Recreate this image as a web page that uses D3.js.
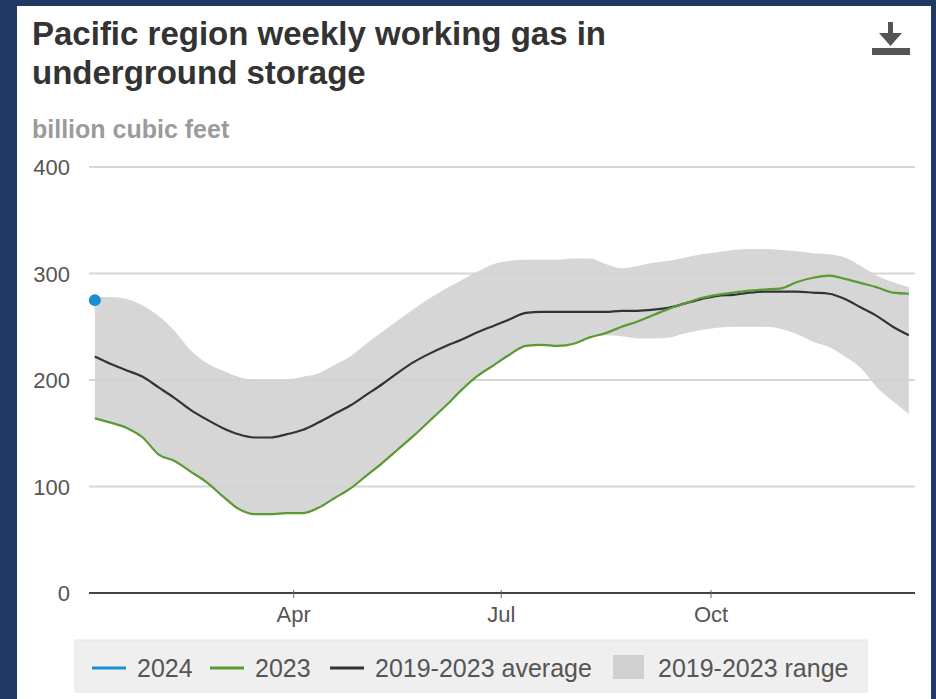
<!DOCTYPE html>
<html>
<head>
<meta charset="utf-8">
<script src="https://cdn.jsdelivr.net/npm/d3@7"></script>
<style>
  html, body { margin: 0; padding: 0; background: #1f3864; }
  svg { display: block; }
  text { font-family: "Liberation Sans", Arial, sans-serif; }
</style>
</head>
<body>
<svg id="chart" width="936" height="699"></svg>
<script>
// ---- data ----
const weeks = ["01-04","01-11","01-18","01-25","02-01","02-08","02-15","02-22",
  "03-01","03-08","03-15","03-22","03-29","04-05","04-12","04-19","04-26",
  "05-03","05-10","05-17","05-24","05-31","06-07","06-14","06-21","06-28",
  "07-05","07-12","07-19","07-26","08-02","08-09","08-16","08-23","08-30",
  "09-06","09-13","09-20","09-27","10-04","10-11","10-18","10-25",
  "11-01","11-08","11-15","11-22","11-29","12-06","12-13","12-20","12-27"];

const series2024 = [275];

const series2023 = [164,160,155,146,130,124,114,104,91,79,74,74,75,75,80,89,98,
  110,122,135,148,162,176,191,204,214,224,232,233,232,234,240,244,250,255,261,
  267,272,277,280,282,284,285,286,292,296,298,295,291,287,282,281];

const average = [222,215,209,203,193,183,172,163,155,149,146,146,149,153,160,168,
  176,186,196,207,217,225,232,238,245,251,257,263,264,264,264,264,264,265,265,
  266,268,272,276,279,280,282,283,283,283,282,281,276,268,260,250,242];

const rangeHigh = [278,278,276,270,260,246,228,216,209,203,200,200,200,203,206,214,
  222,234,245,256,267,277,286,294,302,309,312,313,313,313,314,314,309,305,307,
  310,312,315,318,320,322,323,323,322,321,319,318,315,307,298,292,287];

const rangeLow = [164,160,155,146,130,124,114,104,91,79,74,74,75,75,80,89,98,
  110,122,135,148,162,176,191,204,214,224,232,233,232,234,240,242,241,239,239,
  240,244,247,249,250,250,250,248,243,236,231,222,211,193,180,168];

const yTicks = [0, 100, 200, 300, 400];
const xTickDates = ["04-01", "07-01", "10-01"];
const xTickLabels = ["Apr", "Jul", "Oct"];

const titleLines = ["Pacific region weekly working gas in", "underground storage"];
const unitLabel = "billion cubic feet";
const legendItems = [
  {label: "2024", type: "line", color: "#1b8fd6"},
  {label: "2023", type: "line", color: "#5b9a32"},
  {label: "2019-2023 average", type: "line", color: "#333333"},
  {label: "2019-2023 range", type: "box", color: "#d0d0d0"}
];

// ---- drawing ----
const parse = d3.timeParse("%Y-%m-%d");
const toDate = s => parse("2023-" + s);

const svg = d3.select("#chart");

// white panel
svg.append("rect").attr("x", 17).attr("y", 6).attr("width", 914).attr("height", 700)
  .attr("fill", "#ffffff");

const x = d3.scaleTime()
  .domain([toDate("01-01"), toDate("12-31")])
  .range([88, 918]);
const y = d3.scaleLinear().domain([0, 400]).range([593, 167]);

const plotLeft = 89, plotRight = 915;

// title
svg.selectAll("text.title").data(titleLines).enter().append("text")
  .attr("class", "title")
  .attr("x", 32).attr("y", (d, i) => 45 + i * 39)
  .attr("font-size", 33).attr("font-weight", "bold").attr("fill", "#333333")
  .text(d => d);

// units
svg.append("text").attr("x", 32).attr("y", 138)
  .attr("font-size", 25).attr("font-weight", "bold").attr("fill", "#9b9b9b")
  .text(unitLabel);

// download icon
svg.append("path")
  .attr("d", "M888,22 H893 V33 H902 L890.5,46 L879,33 H888 Z M872,48 H910 V55 H872 Z")
  .attr("fill", "#555555");

// gridlines
const gridG = svg.append("g");
gridG.selectAll("line").data(yTicks.filter(d => d > 0)).enter().append("line")
  .attr("x1", plotLeft).attr("x2", plotRight)
  .attr("y1", d => y(d)).attr("y2", d => y(d))
  .attr("stroke", "#d6d6d6").attr("stroke-width", 2);

// y tick labels
svg.append("g").selectAll("text").data(yTicks).enter().append("text")
  .attr("x", 70).attr("y", d => y(d) + 8)
  .attr("text-anchor", "end").attr("font-size", 22).attr("fill", "#555555")
  .text(d => d);

const rows = weeks.map((w, i) => ({
  date: toDate(w), lo: rangeLow[i], hi: rangeHigh[i], avg: average[i], v23: series2023[i]
}));

// range area
svg.append("path").datum(rows)
  .attr("d", d3.area().x(d => x(d.date)).y0(d => y(d.lo)).y1(d => y(d.hi)).curve(d3.curveMonotoneX))
  .attr("fill", "#d3d3d3").attr("fill-opacity", 0.92);

// average line
svg.append("path").datum(rows)
  .attr("d", d3.line().x(d => x(d.date)).y(d => y(d.avg)).curve(d3.curveMonotoneX))
  .attr("fill", "none").attr("stroke", "#333333").attr("stroke-width", 2.2);

// 2023 line
svg.append("path").datum(rows)
  .attr("d", d3.line().x(d => x(d.date)).y(d => y(d.v23)).curve(d3.curveMonotoneX))
  .attr("fill", "none").attr("stroke", "#5b9a32").attr("stroke-width", 2.2);

// 2024 point(s)
svg.append("g").selectAll("circle").data(series2024).enter().append("circle")
  .attr("cx", (d, i) => x(toDate(weeks[i]))).attr("cy", d => y(d))
  .attr("r", 6).attr("fill", "#1b8fd6");

// x axis
const xAxis = d3.axisBottom(x)
  .tickValues(xTickDates.map(toDate))
  .tickFormat((d, i) => xTickLabels[i])
  .tickSize(6).tickSizeOuter(0);
const xg = svg.append("g").attr("transform", "translate(0," + y(0) + ")").call(xAxis);
xg.select(".domain").attr("d", "M" + plotLeft + ",0H" + plotRight)
  .attr("stroke", "#444444").attr("stroke-width", 2);
xg.selectAll(".tick line").attr("stroke", "#666666").attr("y1", -3).attr("y2", 5);
xg.selectAll(".tick text").attr("font-size", 22).attr("fill", "#555555")
  .attr("font-family", "Liberation Sans, Arial, sans-serif").attr("dy", 0).attr("y", 29);

// legend
const lg = svg.append("g");
lg.append("rect").attr("x", 75).attr("y", 640).attr("width", 792).attr("height", 52)
  .attr("fill", "#efefef").attr("stroke", "#e6e6e6");
const legendX = [92, 210, 330, 613];
legendItems.forEach((it, i) => {
  const lx = legendX[i];
  if (it.type === "line") {
    lg.append("line").attr("x1", lx).attr("x2", lx + 34).attr("y1", 668).attr("y2", 668)
      .attr("stroke", it.color).attr("stroke-width", 3);
    lg.append("text").attr("x", lx + 45).attr("y", 677).attr("font-size", 25)
      .attr("fill", "#555555").text(it.label);
  } else {
    lg.append("rect").attr("x", lx).attr("y", 655).attr("width", 31).attr("height", 24)
      .attr("fill", it.color);
    lg.append("text").attr("x", lx + 45).attr("y", 677).attr("font-size", 25)
      .attr("fill", "#555555").text(it.label);
  }
});
</script>
</body>
</html>
